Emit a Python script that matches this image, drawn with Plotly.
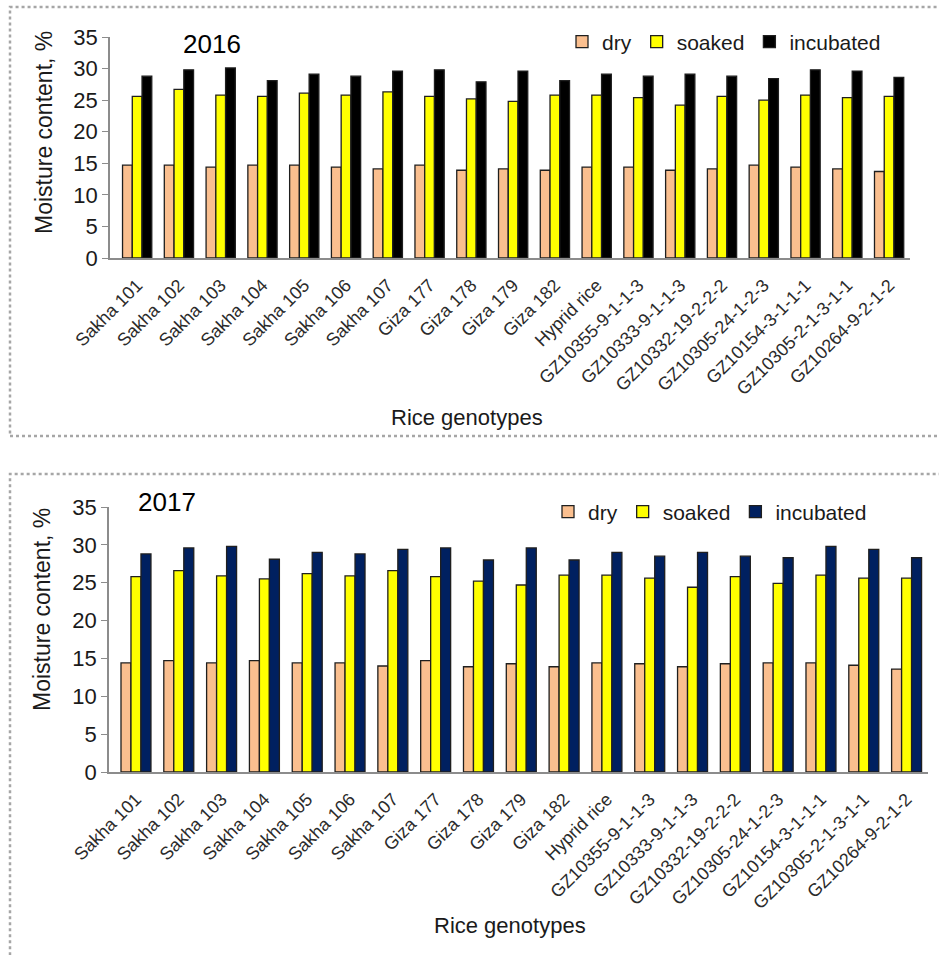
import plotly.graph_objects as go

genotypes = ["Sakha 101", "Sakha 102", "Sakha 103", "Sakha 104", "Sakha 105", "Sakha 106",
             "Sakha 107", "Giza 177", "Giza 178", "Giza 179", "Giza 182", "Hyprid rice",
             "GZ10355-9-1-1-3", "GZ10333-9-1-1-3", "GZ10332-19-2-2-2", "GZ10305-24-1-2-3",
             "GZ10154-3-1-1-1", "GZ10305-2-1-3-1-1", "GZ10264-9-2-1-2"]

dry_2016 = [14.7, 14.7, 14.4, 14.7, 14.7, 14.4, 14.1, 14.7, 13.9, 14.1, 13.9, 14.4,
            14.4, 13.9, 14.1, 14.7, 14.4, 14.1, 13.7]
soaked_2016 = [25.6, 26.7, 25.8, 25.6, 26.1, 25.8, 26.3, 25.6, 25.2, 24.8, 25.8, 25.8,
               25.4, 24.2, 25.6, 25.0, 25.8, 25.4, 25.6]
incubated_2016 = [28.8, 29.8, 30.1, 28.1, 29.1, 28.8, 29.6, 29.8, 27.9, 29.6, 28.1, 29.1,
                  28.8, 29.1, 28.8, 28.4, 29.8, 29.6, 28.6]

dry_2017 = [14.4, 14.7, 14.4, 14.7, 14.4, 14.4, 14.0, 14.7, 13.9, 14.3, 13.9, 14.4,
            14.3, 13.9, 14.3, 14.4, 14.4, 14.1, 13.6]
soaked_2017 = [25.8, 26.6, 25.9, 25.5, 26.2, 25.9, 26.6, 25.8, 25.2, 24.7, 26.0, 26.0,
               25.6, 24.4, 25.8, 24.9, 26.0, 25.6, 25.6]
incubated_2017 = [28.8, 29.6, 29.8, 28.1, 29.0, 28.8, 29.4, 29.6, 28.0, 29.6, 28.0, 29.0,
                  28.5, 29.0, 28.5, 28.3, 29.8, 29.4, 28.3]

series_names = ["dry", "soaked", "incubated"]
y_ticks = [0, 5, 10, 15, 20, 25, 30, 35]

W, H = 939, 955
FONT = "Arial, Liberation Sans, sans-serif"

def px(x):
    return x / W

def py(y):
    return 1 - y / H

fig = go.Figure()

colors_top = ["#FABF8F", "#FFFF00", "#000000"]
colors_bot = ["#FABF8F", "#FFFF00", "#002060"]

for name, vals, col in zip(series_names, [dry_2016, soaked_2016, incubated_2016], colors_top):
    fig.add_trace(go.Bar(x=genotypes, y=vals, name=name, marker_color=col,
                         marker_line=dict(color="#1f1f1f", width=1.3),
                         xaxis="x", yaxis="y", legend="legend"))
for name, vals, col in zip(series_names, [dry_2017, soaked_2017, incubated_2017], colors_bot):
    fig.add_trace(go.Bar(x=genotypes, y=vals, name=name, marker_color=col,
                         marker_line=dict(color="#1f1f1f", width=1.3),
                         xaxis="x2", yaxis="y2", legend="legend2"))

axis_common = dict(showgrid=False, zeroline=False, showline=True, linecolor="#8c8c8c",
                   linewidth=1.5, automargin=False)

def ann(text, x, y, size, angle=0, color="#1a1a1a"):
    return dict(text=text, x=px(x), y=py(y), xref="paper", yref="paper", showarrow=False,
                xanchor="center", yanchor="middle", textangle=angle,
                font=dict(size=size, color=color))

fig.update_layout(
    width=W, height=H,
    margin=dict(l=0, r=0, t=0, b=0),
    paper_bgcolor="white", plot_bgcolor="white",
    barmode="group", bargap=0.3, bargroupgap=0,
    font=dict(family=FONT, color="#1a1a1a"),
    xaxis=dict(domain=[px(110), px(910)], anchor="y", range=[-0.65, 18.5],
               type="category", tickangle=-45, ticks="", ticklabelstandoff=8,
               tickfont=dict(size=18, color="#2b2b2b"), **axis_common),
    yaxis=dict(domain=[py(258), py(37)], anchor="x", range=[0, 35], tickvals=y_ticks,
               ticks="outside", ticklen=6, tickcolor="#8c8c8c",
               tickfont=dict(size=22, color="#1a1a1a"), **axis_common),
    xaxis2=dict(domain=[px(109), px(928)], anchor="y2", range=[-0.63, 18.5],
                type="category", tickangle=-45, ticks="", ticklabelstandoff=8,
                tickfont=dict(size=18, color="#2b2b2b"), **axis_common),
    yaxis2=dict(domain=[py(772), py(507)], anchor="x2", range=[0, 35], tickvals=y_ticks,
                ticks="outside", ticklen=6, tickcolor="#8c8c8c",
                tickfont=dict(size=22, color="#1a1a1a"), **axis_common),
    legend=dict(orientation="h", x=px(562), y=py(42), xanchor="left", yanchor="middle",
                font=dict(size=21, color="#1a1a1a"), bgcolor="rgba(0,0,0,0)",
                traceorder="normal", itemwidth=30),
    legend2=dict(orientation="h", x=px(548), y=py(512), xanchor="left", yanchor="middle",
                 font=dict(size=21, color="#1a1a1a"), bgcolor="rgba(0,0,0,0)",
                 traceorder="normal", itemwidth=30),
    shapes=[
        dict(type="rect", xref="paper", yref="paper", x0=px(10), x1=1.02, y0=py(436), y1=py(7),
             line=dict(color="#a6a6a6", width=2.5, dash="dot"), fillcolor="rgba(0,0,0,0)"),
        dict(type="rect", xref="paper", yref="paper", x0=px(10), x1=1.02, y0=-0.02, y1=py(474),
             line=dict(color="#a6a6a6", width=2.5, dash="dot"), fillcolor="rgba(0,0,0,0)"),
    ],
    annotations=[
        ann("2016", 212, 44, 26, color="#000000"),
        ann("2017", 167, 502, 26, color="#000000"),
        ann("Moisture content, %", 44, 133, 23, angle=-90),
        ann("Moisture content, %", 42, 610, 23, angle=-90),
        ann("Rice genotypes", 467, 417, 22),
        ann("Rice genotypes", 510, 925, 22),
    ],
)

fig.write_html("out.html")
